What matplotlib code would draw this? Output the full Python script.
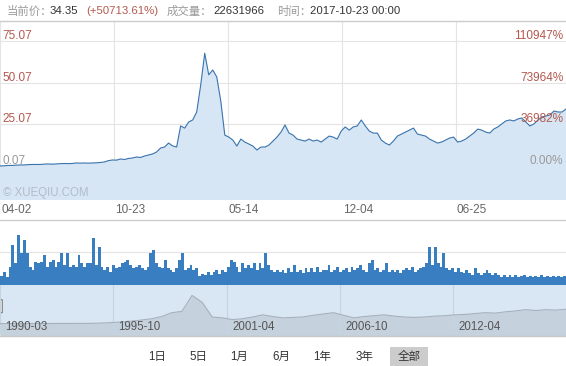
import numpy as np
import matplotlib
matplotlib.use("Agg")
import matplotlib.pyplot as plt
from matplotlib.lines import Line2D
from matplotlib.patches import Rectangle, FancyBboxPatch
from matplotlib import transforms

plt.rcParams["font.family"] = ["Liberation Sans", "Noto Sans CJK SC", "DejaVu Sans"]

W, H = 566, 366

# close price, sampled evenly across the whole history
price = [
    0.1, 0.2, 0.4, 0.4, 0.6, 0.7, 0.7, 0.9, 1.0, 1.0,
    1.0, 1.2, 1.3, 1.2, 1.3, 1.5, 1.6, 1.5, 1.6, 1.9,
    1.8, 1.9, 1.8, 1.9, 2.0, 2.2, 2.5, 3.3, 3.7, 3.6,
    4.3, 4.0, 4.6, 4.9, 5.5, 5.2, 6.1, 6.7, 7.3, 8.5,
    10.9, 11.5, 13.9, 12.2, 11.5, 24.2, 22.9, 26.6, 27.8, 32.6,
    48.9, 68.0, 55.0, 57.9, 53.7, 39.2, 18.7, 17.5, 15.7, 12.1,
    16.3, 14.5, 13.3, 12.1, 9.7, 11.5, 11.5, 12.7, 15.1, 17.5,
    20.5, 24.8, 19.9, 18.7, 16.3, 15.7, 15.1, 16.3, 15.1, 15.7,
    14.5, 16.3, 18.1, 17.5, 16.3, 21.1, 23.6, 21.7, 23.6, 24.2,
    27.8, 24.2, 21.1, 19.9, 19.9, 15.7, 13.9, 12.7, 15.1, 18.1,
    19.3, 20.5, 21.7, 22.9, 19.3, 18.7, 18.1, 16.3, 15.1, 13.9,
    14.5, 15.7, 16.9, 17.5, 14.5, 15.1, 16.3, 18.1, 19.9, 22.3,
    21.7, 20.5, 19.9, 22.3, 23.6, 25.4, 27.2, 27.8, 27.2, 28.4,
    29.0, 26.6, 24.2, 25.4, 27.8, 29.6, 30.2, 30.8, 33.2, 32.6,
    32.6, 34.35,
]
price_ticks = [0.07, 25.07, 50.07, 75.07]
pct_labels = ["0.00%", "36982%", "73964%", "110947%"]
date_labels = ["04-02", "10-23", "05-14", "12-04", "06-25"]

# traded volume (relative units)
volume = [
    8, 12, 7, 17, 39, 21, 49, 31, 44, 31, 17, 14, 22, 21, 22, 29, 17, 22, 24, 17,
    22, 31, 19, 31, 17, 19, 17, 29, 21, 17, 21, 21, 46, 19, 37, 17, 14, 17, 12, 19,
    16, 17, 21, 22, 24, 19, 16, 17, 19, 16, 14, 17, 31, 34, 21, 17, 16, 24, 16, 14,
    12, 16, 24, 31, 14, 16, 19, 14, 16,
    8, 10, 9, 12, 9, 12, 14, 10, 14, 12, 17, 24, 22, 17, 12, 21, 16, 19, 16, 21,
    14, 21, 16, 31, 19, 14, 12, 14, 12, 14, 11, 16, 12, 19, 12, 14, 11, 16, 12, 16,
    12, 17, 12, 14, 14, 19, 12, 14, 17, 12, 14, 16, 12, 17, 14, 16, 19, 14, 12, 21,
    24, 14, 16, 12, 14,
    21, 12, 14, 12, 14, 11, 14, 16, 14, 17, 12, 14, 16, 17, 21, 37, 19, 37, 21, 17,
    31, 16, 14, 16, 12, 16, 12, 11, 14, 11, 9, 16, 11, 9, 11, 14, 11, 9, 11, 9,
    7, 9, 7, 9, 7, 9, 7, 8, 9, 7, 8, 7, 8, 7, 9, 7, 8, 7, 8, 7,
    8, 7, 8,
]

# navigator overview series
nav_price = [
    0.8, 0.8, 0.9, 0.9, 1.0, 1.0, 1.1, 1.1, 1.2, 1.3,
    2.0, 3.0, 4.5, 6.5, 9.0, 12.0, 17.0, 26.0, 29.0, 66.0,
    50.0, 16.0, 14.0, 10.0, 12.0, 16.0, 21.0, 17.0, 14.0, 15.0,
    16.0, 20.0, 23.0, 26.0, 20.0, 14.0, 17.0, 19.0, 21.0, 18.0,
    16.0, 15.0, 16.0, 18.0, 19.0, 21.0, 22.0, 24.0, 26.0, 25.0,
    28.0, 30.0, 33.0, 31.0, 33.0, 32.0, 34.0,
]
nav_labels = ["1990-03", "1995-10", "2001-04", "2006-10", "2012-04"]
range_buttons = ["1日", "5日", "1月", "6月", "1年", "3年", "全部"]

GRAY = "#999999"
DARK = "#333333"
RED = "#b4584e"
LINE = "#3a73ad"
FILL = "#d6e6f5"
VOL = "#3a7ec2"


def box(top, bottom):
    return [0, 1 - bottom / H, 1, (bottom - top) / H]


def ftext(x, y, s, **kw):
    return fig.text(x / W, 1 - y / H, s, **kw)


def hline(y, color="#cccccc"):
    fig.add_artist(Line2D([0, 1], [1 - y / H] * 2, color=color, lw=1))


fig = plt.figure(figsize=(W / 100, H / 100), dpi=100)

# header
for x, s, c in [(7, "当前价：", GRAY), (50, "34.35", DARK), (86, "(+50713.61%)", RED),
                (167, "成交量：", GRAY), (213, "22631966", DARK),
                (277, "时间：", GRAY), (310, "2017-10-23 00:00", DARK)]:
    ftext(x, 11, s, color=c, fontsize=8.2, va="center")
hline(20.5)

# main price chart
ax = fig.add_axes(box(21, 200))
x = np.arange(len(price))
ax.fill_between(x, price, -30, color=FILL, lw=0)
ax.plot(x, price, color=LINE, lw=0.8)
ax.set_xlim(0, len(price) - 1)
ax.set_ylim(-20.4, 87.4)
ax.set_yticks(price_ticks)
ax.set_xticks(np.array([0, 114, 228, 342, 456]) / W * (len(price) - 1))
ax.grid(True, color="#e4e4e4", lw=0.8)
ax.set_axisbelow(True)
ax.tick_params(length=0, labelleft=False, labelbottom=False)
for sp in ax.spines.values():
    sp.set_visible(False)

up = transforms.offset_copy(ax.get_yaxis_transform(), fig=fig, x=0, y=2, units="dots")
for i, (v, p) in enumerate(zip(price_ticks, pct_labels)):
    c = GRAY if i == 0 else RED
    ax.text(0.005, v, f"{v:.2f}", color=c, fontsize=8.5, va="baseline", ha="left",
            transform=up)
    ax.text(0.995, v, p, color=c, fontsize=8.5, va="baseline", ha="right",
            transform=up)
ftext(3, 193, "© XUEQIU.COM", color="#b3bcc6", fontsize=8.3, va="center")

lab_tr = transforms.offset_copy(ax.get_xaxis_transform(), fig=fig, x=1, y=0, units="dots")
for t, s in zip(ax.get_xticks(), date_labels):
    ax.text(t, -0.055, s, color="#666666", fontsize=8.5, ha="left", va="center",
            transform=lab_tr)
hline(220.5)

# volume
axv = fig.add_axes(box(222, 284.5))
xv = np.arange(len(volume))
axv.bar(xv, volume, width=1.0, color=VOL, lw=0)
axv.set_xlim(-0.5, len(volume) - 0.5)
axv.set_ylim(0, 62)
axv.set_yticks([32])
axv.set_xticks([])
axv.grid(True, axis="y", color="#e4e4e4", lw=0.8)
axv.set_axisbelow(True)
axv.tick_params(length=0, labelleft=False)
for sp in axv.spines.values():
    sp.set_visible(False)

# navigator
axn = fig.add_axes(box(284.5, 335))
axn.set_facecolor("#d9e7f4")
xn = np.arange(len(nav_price))
axn.fill_between(xn, nav_price, -30, color="#c5d1dc", lw=0)
axn.plot(xn, nav_price, color="#a5b1bd", lw=0.8)
axn.set_xlim(0, len(nav_price) - 1)
axn.set_ylim(-25.7, 91.3)
axn.set_xticks(np.array([0, 113, 227, 340, 453]) / W * (len(nav_price) - 1))
axn.set_yticks([])
axn.grid(True, axis="x", color="#c6d4e2", lw=0.8)
axn.tick_params(length=0, labelbottom=False)
for sp in axn.spines.values():
    sp.set_visible(False)
nav_tr = transforms.offset_copy(axn.get_xaxis_transform(), fig=fig, x=5, y=0, units="dots")
for t, s in zip(axn.get_xticks(), nav_labels):
    axn.text(t, 0.16, s, color="#555555", fontsize=8.3, ha="left", va="center",
             transform=nav_tr)
axn.add_patch(FancyBboxPatch((-0.012, 0.44), 0.016, 0.26,
                             boxstyle="round,pad=0,rounding_size=0.004",
                             transform=axn.transAxes, fc="white", ec="#777777",
                             lw=0.8, clip_on=False))
hline(335.5, "#c8c8c8")

# range selector buttons
fig.add_artist(Rectangle((390 / W, 0), 38 / W, 19 / H, transform=fig.transFigure,
                         fc="#cccccc", lw=0))
for cx, s in zip([157, 198, 239, 281, 322, 364, 409], range_buttons):
    ftext(cx, 357, s, color=DARK, fontsize=8.3, ha="center", va="center")

fig.savefig("out.png", dpi=100)
